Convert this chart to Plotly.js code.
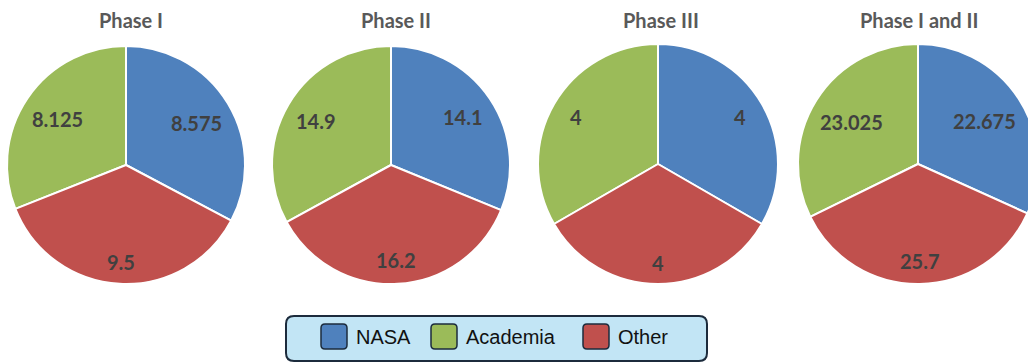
<!DOCTYPE html>
<html>
<head>
<meta charset="utf-8">
<script src="https://cdn.plot.ly/plotly-3.0.1.min.js"></script>
<style>
  html, body { margin: 0; padding: 0; overflow: hidden; background: #fff; }
  #chart { width: 1040px; height: 363px; }
</style>
</head>
<body>
<div id="chart"></div>
<script>
// Funding share by source for each phase
const categories = ['NASA', 'Academia', 'Other'];
const phaseNames = ['Phase I', 'Phase II', 'Phase III', 'Phase I and II'];
const phaseI = [8.575, 8.125, 9.5];
const phaseII = [14.1, 14.9, 16.2];
const phaseIII = [4, 4, 4];
const phaseIandII = [22.675, 23.025, 25.7];
const sliceColors = ['#4f81bd', '#9bbb59', '#c0504d'];

const W = 1040, H = 363;
const phaseValues = [phaseI, phaseII, phaseIII, phaseIandII];

// pixel geometry of each pie: centre x, centre y, radius, title x
const pieBoxes = [
  { cx: 126, cy: 165, r: 119, tx: 131 },
  { cx: 391, cy: 165, r: 119, tx: 396 },
  { cx: 658, cy: 164, r: 120, tx: 661 },
  { cx: 918, cy: 164, r: 120, tx: 919 }
];

const labelFont = { family: 'Lato', size: 20, color: '#404040', weight: 'bold' };

const traces = phaseValues.map((vals, i) => {
  const b = pieBoxes[i];
  return {
    type: 'pie',
    labels: categories,
    values: vals,
    sort: false,
    direction: 'counterclockwise',
    rotation: 0,
    marker: { colors: sliceColors, line: { color: '#ffffff', width: 2 } },
    textinfo: 'none',
    hoverinfo: 'none',
    showlegend: false,
    domain: {
      x: [(b.cx - b.r) / W, (b.cx + b.r) / W],
      y: [1 - (b.cy + b.r) / H, 1 - (b.cy - b.r) / H]
    }
  };
});

const annotations = phaseNames.map((name, i) => ({
  x: pieBoxes[i].tx, y: 20, xref: 'x', yref: 'y',
  text: name, showarrow: false,
  font: { family: 'Lato', size: 20, color: '#595959', weight: 'bold' },
  xanchor: 'center', yanchor: 'middle'
}));

// Value labels: placed on each slice's mid-angle, pushed outward until the
// label's far corner sits just inside the rim ("best fit" placement).
function estimateWidth(txt) {
  let w = 0;
  for (const ch of txt) w += (ch === '.') ? 5 : 10.5;
  return Math.max(w, 20);
}
phaseValues.forEach((vals, i) => {
  const b = pieBoxes[i];
  const total = vals.reduce((s, v) => s + v, 0);
  // clockwise order from 12 o'clock: first category, then the rest reversed
  const order = [0, 2, 1];
  let start = 0;
  order.forEach(k => {
    const span = vals[k] / total * 2 * Math.PI;
    const mid = start + span / 2;
    start += span;
    const ux = Math.sin(mid), uy = -Math.cos(mid);
    const txt = String(vals[k]);
    const hw = estimateWidth(txt) / 2, hh = 9;
    const R = 0.9 * b.r;
    const bb = Math.abs(ux) * hw + Math.abs(uy) * hh;
    const cc = hw * hw + hh * hh - R * R;
    const d = -bb + Math.sqrt(bb * bb - cc);
    annotations.push({
      x: b.cx + d * ux, y: b.cy + d * uy, xref: 'x', yref: 'y',
      text: txt, showarrow: false, font: labelFont,
      xanchor: 'center', yanchor: 'middle'
    });
  });
});

const shapes = [];
function roundRect(x0, y0, x1, y1, r) {
  return `M${x0 + r},${y0} L${x1 - r},${y0} Q${x1},${y0} ${x1},${y0 + r} ` +
         `L${x1},${y1 - r} Q${x1},${y1} ${x1 - r},${y1} L${x0 + r},${y1} ` +
         `Q${x0},${y1} ${x0},${y1 - r} L${x0},${y0 + r} Q${x0},${y0} ${x0 + r},${y0} Z`;
}

// legend frame
shapes.push({
  type: 'path', xref: 'x', yref: 'y',
  path: roundRect(286, 316, 707, 361, 8),
  fillcolor: '#c2e5f5', line: { color: '#1c2b3c', width: 2 }
});

// legend entries
const legendSwatchX = [321, 431, 583];
categories.forEach((cat, i) => {
  const x0 = legendSwatchX[i];
  shapes.push({
    type: 'path', xref: 'x', yref: 'y',
    path: roundRect(x0, 324, x0 + 26, 349, 4),
    fillcolor: sliceColors[i], line: { color: '#1c2b3c', width: 1.5 }
  });
  annotations.push({
    x: x0 + 33, y: 337, xref: 'x', yref: 'y',
    text: cat, showarrow: false,
    font: { family: 'Liberation Sans', size: 20, color: '#111111' },
    xanchor: 'left', yanchor: 'middle'
  });
});

const layout = {
  width: W, height: H,
  margin: { l: 0, r: 0, t: 0, b: 0 },
  paper_bgcolor: '#ffffff', plot_bgcolor: 'rgba(0,0,0,0)',
  xaxis: { range: [0, W], visible: false, fixedrange: true },
  yaxis: { range: [H, 0], visible: false, fixedrange: true },
  shapes: shapes,
  annotations: annotations
};

Plotly.newPlot('chart', traces, layout, { displayModeBar: false, staticPlot: true });
</script>
</body>
</html>
